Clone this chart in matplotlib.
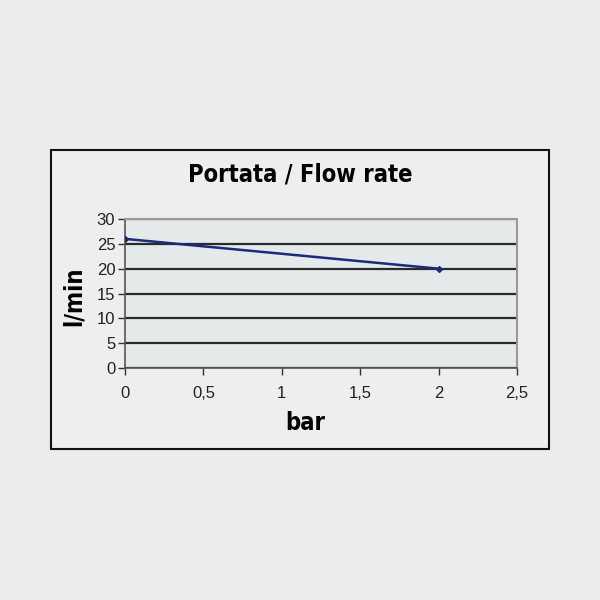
import matplotlib
matplotlib.use("Agg")
import matplotlib.pyplot as plt
from matplotlib.patches import Rectangle

# dati
pressione = [0, 2]        # bar
portata = [26, 20]        # l/min
xticks = [0, 0.5, 1, 1.5, 2, 2.5]
xlabels = ['0', '0,5', '1', '1,5', '2', '2,5']
yticks = [0, 5, 10, 15, 20, 25, 30]

fig = plt.figure(figsize=(6, 6), dpi=100)
fig.patch.set_facecolor('#ebebeb')

# riquadro esterno con bordo nero
box = Rectangle((51/600, 1-449/600), 498/600, 299/600, transform=fig.transFigure,
                facecolor='#eeeeee', edgecolor='#111111', linewidth=1.5, zorder=-5)
fig.patches.append(box)

cond = dict(family='DejaVu Sans', fontstretch='condensed', fontweight='bold')

ax = fig.add_axes([125/600, 1-368/600, 392/600, 149/600], zorder=2)
ax.set_facecolor('#e4eaea')
ax.plot(pressione, portata, color='#1c2a7a', linewidth=1.8, marker='D', markersize=3, zorder=3)

ax.set_xlim(0, 2.5)
ax.set_ylim(0, 30)
ax.set_xticks(xticks)
ax.set_xticklabels(xlabels)
ax.set_yticks(yticks)
ax.tick_params(axis='both', labelsize=12, color='#333333', length=5, width=1, labelcolor='#222222')
ax.tick_params(axis='x', pad=8)
ax.tick_params(axis='y', pad=2)
for lab in ax.get_xticklabels() + ax.get_yticklabels():
    lab.set_family(['Liberation Sans', 'DejaVu Sans'])

ax.grid(axis='y', color='#2a2a2a', linewidth=1.6)
ax.set_axisbelow(True)
for s in ['top', 'right']:
    ax.spines[s].set_color('#999999')
    ax.spines[s].set_linewidth(1.5)
for s in ['left', 'bottom']:
    ax.spines[s].set_color('#555555')
    ax.spines[s].set_linewidth(1.2)

ax.set_xlabel('bar', fontsize=17, **cond)
ax.xaxis.set_label_coords(0.46, -0.29)
ax.set_ylabel('l/min', fontsize=17, **cond)
ax.yaxis.set_label_coords(-0.10, 0.48)
fig.text(300/600, 1-174/600, 'Portata / Flow rate', ha='center', va='center',
         fontsize=17, **cond)

fig.savefig('out.png', dpi=100, facecolor=fig.get_facecolor())
